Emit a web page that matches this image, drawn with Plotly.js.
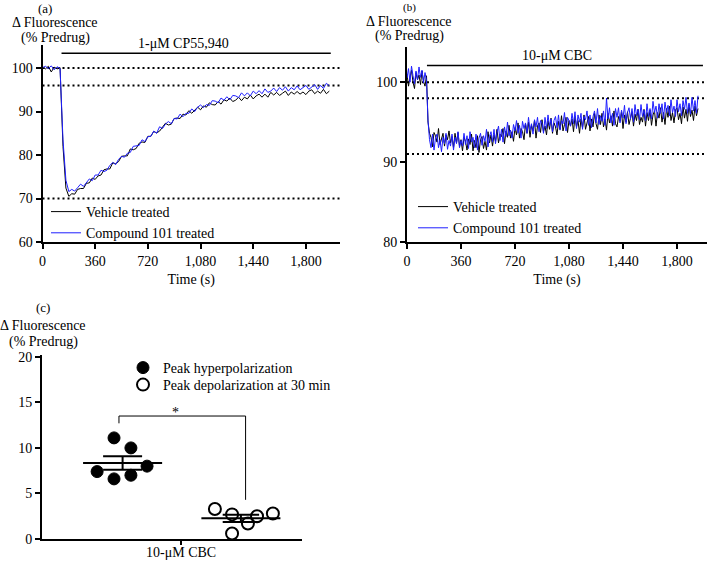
<!DOCTYPE html>
<html>
<head>
<meta charset="utf-8">
<script src="https://cdn.plot.ly/plotly-3.0.1.min.js"></script>
<style>html,body{margin:0;padding:0;background:#fff;}#chart{width:709px;height:563px;}</style>
</head>
<body>
<div id="chart"></div>
<script>
// ---------- Panel (a): 1-µM CP55,940 ----------
const tA = [0,20,40,60,80,100,120,140,160,180,200,220,240,260,280,300,320,340,360,380,400,420,440,460,480,500,520,540,560,580,600,620,640,660,680,700,720,740,760,780,800,820,840,860,880,900,920,940,960,980,1000,1020,1040,1060,1080,1100,1120,1140,1160,1180,1200,1220,1240,1260,1280,1300,1320,1340,1360,1380,1400,1420,1440,1460,1480,1500,1520,1540,1560,1580,1600,1620,1640,1660,1680,1700,1720,1740,1760,1780,1800,1820,1840,1860,1880,1900,1920,1940,1960];
const vehicleA = [100.3,99.8,100.4,99.1,100.2,99.8,100.1,82.0,72.4,70.5,
  71.1,71.0,72.1,72.3,72.3,73.5,73.6,74.7,74.4,75.2,
  75.4,76.6,76.8,76.8,78.2,78.0,78.5,79.7,79.8,79.8,
  81.4,81.2,81.5,82.7,83.0,82.9,84.3,84.3,85.4,85.1,
  85.5,86.5,87.3,86.9,87.1,88.4,88.5,88.4,89.4,89.2,
  90.2,89.6,90.4,91.0,90.4,91.3,91.0,92.0,91.6,91.5,
  92.3,91.7,92.7,92.4,93.1,92.3,92.6,93.3,92.5,93.3,
  92.9,93.8,92.9,93.6,94.0,93.3,94.0,93.3,94.4,93.8,
  94.4,93.7,94.2,94.7,93.7,94.5,94.0,94.6,94.0,94.5,
  93.9,94.7,95.0,94.1,94.7,94.2,95.1,94.1,94.7];
const compoundA = [100.1,100.4,99.9,100.5,99.6,100.3,99.9,83.5,74.2,71.6,
  72.1,71.7,72.5,73.3,72.8,73.8,74.5,74.1,75.4,75.4,
  76.5,76.2,76.5,77.6,78.3,77.8,79.0,79.7,79.5,80.4,
  80.6,82.0,82.1,82.2,83.5,83.1,84.2,84.3,85.5,85.0,
  86.5,86.1,87.1,87.7,87.2,88.4,88.3,89.4,88.8,89.6,
  89.6,90.6,90.0,91.0,91.5,90.9,91.6,91.4,92.5,92.4,
  92.0,93.1,92.6,93.4,92.7,93.7,93.6,93.2,94.3,93.6,
  94.3,93.6,94.7,94.1,94.8,94.1,95.2,94.4,94.7,95.4,
  94.6,95.5,94.9,95.7,94.7,95.5,95.0,95.9,95.0,95.6,
  96.0,95.1,95.7,96.2,95.1,96.0,95.3,96.5,95.9];
const refLinesA = [100, 96, 70];
const drugA = {label: '1-μM CP55,940', start: 130, end: 1970, level: 103.4};

// ---------- Panel (b): 10-µM CBC ----------
const tB = [0,10,20,30,40,50,60,70,80,90,100,110,120,130,140,150,160,170,180,190,200,210,220,230,240,250,260,270,280,290,300,310,320,330,340,350,360,370,380,390,400,410,420,430,440,450,460,470,480,490,500,510,520,530,540,550,560,570,580,590,600,610,620,630,640,650,660,670,680,690,700,710,720,730,740,750,760,770,780,790,800,810,820,830,840,850,860,870,880,890,900,910,920,930,940,950,960,970,980,990,1000,1010,1020,1030,1040,1050,1060,1070,1080,1090,1100,1110,1120,1130,1140,1150,1160,1170,1180,1190,1200,1210,1220,1230,1240,1250,1260,1270,1280,1290,1300,1310,1320,1330,1340,1350,1360,1370,1380,1390,1400,1410,1420,1430,1440,1450,1460,1470,1480,1490,1500,1510,1520,1530,1540,1550,1560,1570,1580,1590,1600,1610,1620,1630,1640,1650,1660,1670,1680,1690,1700,1710,1720,1730,1740,1750,1760,1770,1780,1790,1800,1810,1820,1830,1840,1850,1860,1870,1880,1890,1900,1910,1920,1930,1940];
const vehicleB = [101.0,99.5,100.6,101.5,100.0,99.2,101.2,100.3,100.9,99.7,
  101.4,100.1,99.5,100.8,95.0,93.6,93.1,91.9,93.7,93.3,
  92.5,94.2,92.2,93.0,93.6,92.0,93.4,92.8,93.9,92.4,
  93.2,91.8,93.6,92.4,93.7,92.0,92.8,91.4,93.1,92.6,
  91.5,92.9,92.2,93.5,91.4,92.7,91.8,93.3,91.2,92.8,
  93.2,91.7,92.6,91.5,93.8,92.4,93.4,92.0,93.4,92.6,
  94.1,92.4,93.5,93.2,94.2,92.3,93.9,93.1,94.6,93.0,
  93.8,92.6,94.3,93.4,94.9,93.0,94.2,93.8,92.8,94.8,
  93.6,95.0,93.1,94.6,93.9,95.2,93.0,94.5,94.9,93.7,
  95.3,93.8,94.5,93.4,95.2,94.1,95.5,93.6,94.9,94.4,
  93.4,95.1,94.1,95.8,93.9,94.7,95.6,93.7,95.2,94.5,
  95.4,93.8,95.7,94.4,95.2,93.6,95.4,94.3,95.9,94.1,
  95.1,95.7,93.9,95.4,94.4,96.1,94.8,94.1,95.9,94.7,
  96.1,94.4,95.4,94.0,96.1,94.9,95.8,94.5,96.4,94.8,
  94.4,95.7,95.1,96.3,94.2,95.9,95.0,96.3,94.7,95.7,
  96.3,94.5,96.0,95.2,96.6,94.7,95.6,95.0,96.6,94.5,
  96.2,95.2,96.5,94.6,95.9,96.4,94.5,96.2,95.5,96.8,
  95.0,96.2,94.7,96.7,95.6,97.0,95.2,96.2,94.9,96.5,
  96.8,95.3,96.1,94.8,96.9,95.5,96.6,95.1,97.2,95.7,
  96.5,95.2,97.0,95.8,96.7];
const compoundB = [100.5,101.7,100.0,102.0,100.8,99.8,101.4,100.3,101.9,100.6,
  101.5,99.9,101.2,100.2,95.2,92.8,91.8,93.5,91.5,93.0,
  93.5,91.8,92.8,91.3,93.1,92.3,93.6,91.6,92.7,92.0,
  93.5,91.5,93.1,92.3,93.8,91.8,92.7,92.0,93.6,92.2,
  93.3,91.7,93.8,92.5,93.1,91.8,93.5,91.5,93.0,93.6,
  92.1,93.3,92.6,94.1,91.9,93.2,93.8,92.5,94.1,92.3,
  93.7,94.5,92.7,94.1,92.5,94.4,93.2,95.0,93.3,94.0,
  93.0,94.7,93.9,95.2,93.6,94.6,93.0,95.1,94.2,94.9,
  93.6,95.6,94.0,94.8,93.5,95.3,94.4,95.6,93.8,95.2,
  94.9,93.6,95.6,94.2,95.9,94.5,95.4,93.8,95.2,95.7,
  94.3,95.9,94.0,95.2,94.8,96.2,93.9,95.6,95.2,94.5,
  96.1,94.8,96.3,94.2,95.9,95.0,96.1,94.1,95.7,95.3,
  96.4,94.6,95.9,94.3,95.7,96.4,94.9,96.7,94.7,95.8,
  95.1,96.4,94.6,98.0,95.4,96.8,94.9,96.1,94.6,96.7,
  95.6,96.8,94.9,96.5,95.5,97.1,94.8,96.2,96.8,95.4,
  96.7,95.0,97.2,95.8,96.6,95.3,97.2,95.7,96.5,95.2,
  97.3,95.7,96.7,95.4,97.6,96.2,97.0,95.5,97.3,96.1,
  97.3,95.4,97.5,96.2,97.1,95.8,97.8,96.2,97.0,95.7,
  97.8,96.3,97.3,95.8,97.7,96.6,98.1,96.1,97.4,96.0,
  98.1,96.4,97.7,96.1,98.3];
const refLinesB = [100, 98, 91];
const drugB = {label: '10-μM CBC', start: 133, end: 1973, level: 102.1};

// ---------- Panel (c): scatter with mean ± SEM ----------
const categoryC = '10-μM CBC';
const hyperX = [0.212, 0.277, 0.277, 0.342, 0.342, 0.404];
const hyperY = [7.4, 11.1, 6.6, 10.0, 7.0, 8.0];
const depolX = [0.665, 0.731, 0.731, 0.792, 0.827, 0.888];
const depolY = [3.3, 2.7, 0.6, 1.7, 2.5, 2.8];
const bracketX = [0.296, 0.296, 0.783, 0.783];
const bracketY = [12.7, 13.5, 13.5, 4.3];

const FONT = '"Liberation Serif", "Times New Roman", Times, serif';
const BLUE = 'rgb(30,30,255)';
const P = px => px / 709;
const Q = py => 1 - py / 563;

function meanSem(arr) {
  const n = arr.length;
  const m = arr.reduce((a, b) => a + b, 0) / n;
  const sd = Math.sqrt(arr.reduce((a, b) => a + (b - m) * (b - m), 0) / (n - 1));
  return {m: m, sem: sd / Math.sqrt(n)};
}
function errGlyph(center, stats, halfMean, halfSem) {
  const lo = stats.m - stats.sem, hi = stats.m + stats.sem;
  return {
    x: [center - halfMean, center + halfMean, null, center - halfSem, center + halfSem, null,
        center - halfSem, center + halfSem, null, center, center],
    y: [stats.m, stats.m, null, hi, hi, null, lo, lo, null, lo, hi]
  };
}
const hs = meanSem(hyperY), ds = meanSem(depolY);
const gH = errGlyph(0.31, hs, 0.152, 0.075);
const gD = errGlyph(0.765, ds, 0.152, 0.07);

const traces = [
  {x: tA, y: vehicleA, type: 'scatter', mode: 'lines', name: 'Vehicle treated',
   line: {color: 'black', width: 1}, xaxis: 'x', yaxis: 'y', legend: 'legend'},
  {x: tA, y: compoundA, type: 'scatter', mode: 'lines', name: 'Compound 101 treated',
   line: {color: BLUE, width: 1}, xaxis: 'x', yaxis: 'y', legend: 'legend'},
  {x: tB, y: vehicleB, type: 'scatter', mode: 'lines', name: 'Vehicle treated',
   line: {color: 'black', width: 1}, xaxis: 'x2', yaxis: 'y2', legend: 'legend2'},
  {x: tB, y: compoundB, type: 'scatter', mode: 'lines', name: 'Compound 101 treated',
   line: {color: BLUE, width: 1}, xaxis: 'x2', yaxis: 'y2', legend: 'legend2'},
  {x: bracketX, y: bracketY, type: 'scatter', mode: 'lines', showlegend: false,
   line: {color: 'black', width: 1}, xaxis: 'x3', yaxis: 'y3', hoverinfo: 'skip'},
  {x: gH.x, y: gH.y, type: 'scatter', mode: 'lines', showlegend: false,
   line: {color: 'black', width: 2}, xaxis: 'x3', yaxis: 'y3', hoverinfo: 'skip'},
  {x: gD.x, y: gD.y, type: 'scatter', mode: 'lines', showlegend: false,
   line: {color: 'black', width: 2}, xaxis: 'x3', yaxis: 'y3', hoverinfo: 'skip'},
  {x: hyperX, y: hyperY, type: 'scatter', mode: 'markers', name: 'Peak hyperpolarization',
   marker: {symbol: 'circle', size: 12, color: 'black', line: {color: 'black', width: 1}},
   xaxis: 'x3', yaxis: 'y3', legend: 'legend3'},
  {x: depolX, y: depolY, type: 'scatter', mode: 'markers', name: 'Peak depolarization at 30 min',
   marker: {symbol: 'circle-open', size: 12, color: 'black', line: {color: 'black', width: 2}},
   xaxis: 'x3', yaxis: 'y3', legend: 'legend4'}
];

const axBase = {
  showline: true, linewidth: 2, linecolor: 'black', ticks: 'outside', ticklen: 5,
  tickwidth: 2, tickcolor: 'black', showgrid: false, zeroline: false,
  tickfont: {family: FONT, size: 14, color: 'black'}, fixedrange: true
};
const timeTicks = [0, 360, 720, 1080, 1440, 1800];

const shapes = [];
refLinesA.forEach(v => shapes.push({type: 'line', xref: 'x domain', yref: 'y', x0: 0, x1: 1, y0: v, y1: v,
  line: {color: 'black', width: 2, dash: '2px,3px'}, layer: 'below'}));
refLinesB.forEach(v => shapes.push({type: 'line', xref: 'x2 domain', yref: 'y2', x0: 0, x1: 1, y0: v, y1: v,
  line: {color: 'black', width: 2, dash: '2px,3px'}, layer: 'below'}));
shapes.push({type: 'line', xref: 'x', yref: 'y', x0: drugA.start, x1: drugA.end, y0: drugA.level, y1: drugA.level,
  line: {color: 'black', width: 1.5}});
shapes.push({type: 'line', xref: 'x2', yref: 'y2', x0: drugB.start, x1: drugB.end, y0: drugB.level, y1: drugB.level,
  line: {color: 'black', width: 1.5}});

function txt(text, px, py, size, anchor) {
  return {text: text, x: P(px), y: Q(py), xref: 'paper', yref: 'paper', showarrow: false, borderpad: 0,
    xanchor: 'center', yanchor: anchor || 'middle', font: {family: FONT, size: size || 14, color: 'black'}};
}
const annotations = [
  txt('(a)', 45, 8, 13), txt('Δ Fluorescence', 55, 23), txt('(% Predrug)', 55, 38),
  txt(drugA.label, 183, 43),
  txt('(b)', 409, 0, 11, 'top'), txt('Δ Fluorescence', 409, 21), txt('(% Predrug)', 409, 36),
  txt(drugB.label, 557, 55),
  txt('(c)', 43, 307, 13), txt('Δ Fluorescence', 43, 325), txt('(% Predrug)', 43, 342),
  {text: '*', x: 0.515, y: (539 - 413) / 9.1, xref: 'x3', yref: 'y3', showarrow: false, xanchor: 'center', yanchor: 'middle',
   font: {family: FONT, size: 14, color: 'black'}}
];

const legBase = {bgcolor: 'rgba(0,0,0,0)', borderwidth: 0, xanchor: 'left', yanchor: 'top',
  font: {family: FONT, size: 14, color: 'black'}, tracegroupgap: 0};

const layout = {
  width: 709, height: 563, margin: {l: 0, r: 0, t: 0, b: 0},
  paper_bgcolor: 'white', plot_bgcolor: 'white',
  font: {family: FONT, size: 14, color: 'black'},
  xaxis: Object.assign({}, axBase, {domain: [P(42.5), P(340)], range: [0, 2033], anchor: 'y',
    tickvals: timeTicks, tickformat: ',', title: {text: 'Time (s)', font: {family: FONT, size: 14}, standoff: 6}}),
  yaxis: Object.assign({}, axBase, {domain: [Q(242), Q(45)], range: [60, 105.3], anchor: 'x',
    tickvals: [60, 70, 80, 90, 100]}),
  xaxis2: Object.assign({}, axBase, {domain: [P(407), P(707)], range: [0, 2000], anchor: 'y2',
    tickvals: timeTicks, tickformat: ',', title: {text: 'Time (s)', font: {family: FONT, size: 14}, standoff: 6}}),
  yaxis2: Object.assign({}, axBase, {domain: [Q(242), Q(47)], range: [80, 104.4], anchor: 'x2',
    tickvals: [80, 90, 100]}),
  xaxis3: Object.assign({}, axBase, {domain: [P(42), P(302)], range: [0, 1], anchor: 'y3',
    tickvals: [0.535], ticktext: [categoryC], ticklen: 4, ticklabelstandoff: -5}),
  yaxis3: Object.assign({}, axBase, {domain: [Q(539), Q(355)], range: [0, 20.2], anchor: 'x3',
    tickvals: [0, 5, 10, 15, 20]}),
  legend: Object.assign({}, legBase, {x: P(46), y: Q(196)}),
  legend2: Object.assign({}, legBase, {x: P(413), y: Q(191)}),
  legend3: Object.assign({}, legBase, {x: P(123), y: Q(352)}),
  legend4: Object.assign({}, legBase, {x: P(123), y: Q(369)}),
  shapes: shapes,
  annotations: annotations
};

Plotly.newPlot('chart', traces, layout, {displayModeBar: false, staticPlot: true});
</script>
</body>
</html>
